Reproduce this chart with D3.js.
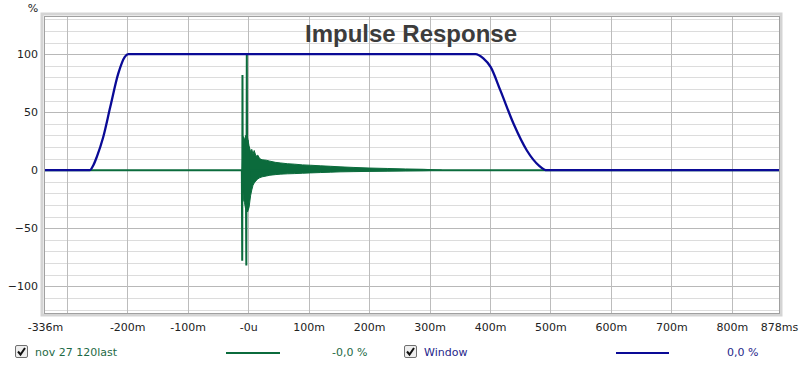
<!DOCTYPE html>
<html>
<head>
<meta charset="utf-8">
<title>Impulse Response</title>
<style>
body { margin: 0; background: #fff; }
svg text { font-family: "DejaVu Sans", sans-serif; font-size: 11px; fill: #222; }
.title { font-family: "Liberation Sans", Arial, sans-serif; font-weight: bold; font-size: 24px; fill: #3c3c3c; }
</style>
<script src="https://d3js.org/d3.v7.min.js"></script>
</head>
<body>
<svg id="chart" width="800" height="367"></svg>
<script>
// axis ticks
var xTickValues = [-336, -200, -100, 0, 100, 200, 300, 400, 500, 600, 700, 800, 878];
var xTickLabels = ["-336m", "-200m", "-100m", "-0u", "100m", "200m", "300m", "400m", "500m", "600m", "700m", "800m", "878ms"];
var xGrid = [-300, -200, -100, 0, 100, 200, 300, 400, 500, 600, 700, 800];
var yTickValues = [-100, -50, 0, 50, 100];

// window curve (ms, %)
var winTime  = [-336, -262, -256, -250, -240, -228, -215, -204, -198, 376, 389, 401, 417, 439, 461, 481, 494, 878];
var winValue = [0, 0, 4.3, 12, 28, 54.6, 83, 97.7, 100, 100, 96.3, 89, 69, 40, 17, 4, 0, 0];

// impulse: main spikes (ms, %)
var irTime  = [-336, -10.4, -9.8, -9.4, -8.9, -8.2, -7.4, -6.6, -5.6, -4.6, -3.6, -3.0, -2.2, -1.6, -0.9, -0.2, 0.6, 1.6, 2.6, 878];
var irValue = [0, 0, -78, 82, -10, 14, -12, 18, -9, 12, -20, -82, 101, -22, 26, -33, 20, -24, 0, 0];

// impulse: decaying noise envelope (ms, upper %, lower %)
var noiseTime = [-10, -8, -6, -4, -1, 1.5, 4, 6, 8, 10, 13, 16, 19, 23, 30, 36, 45, 53, 65, 77, 90, 103, 120, 136, 152, 175, 200, 230, 260, 290, 320];
var noiseHi   = [0, 29, 26, 30, 28, 21, 16, 18, 14, 17, 12, 13, 10, 9, 8.6, 7.8, 6.8, 6.3, 5.6, 5.2, 4.6, 4.3, 3.8, 3.4, 2.9, 2.4, 1.9, 1.5, 1.1, 0.8, 0];
var noiseLo   = [0, -25, -28, -34, -36, -32, -22, -17, -13, -11, -9, -7.5, -6.5, -5.7, -5, -4.3, -3.8, -3.4, -3.1, -2.9, -2.6, -2.3, -2, -1.7, -1.4, -1.2, -1, -0.8, -0.6, -0.4, 0];

var margin = {left: 45, right: 21, top: 17, bottom: 54};
var W = 800, H = 367;
var x0 = margin.left, x1 = W - margin.right, y0 = margin.top, y1 = H - margin.bottom;

var x = d3.scaleLinear().domain([-336, 878]).range([x0, x1]);
var y = d3.scaleLinear().domain([-123, 132]).range([y1, y0]);

var svg = d3.select("#chart");
svg.append("rect").attr("width", W).attr("height", H).attr("fill", "#fff");

// frame shadow
svg.append("rect")
	.attr("x", x0 - 3).attr("y", y0 - 3)
	.attr("width", x1 - x0 + 5).attr("height", y1 - y0 + 5)
	.attr("fill", "none").attr("stroke", "#d4d4d4").attr("stroke-width", 3);

// grid
var grid = svg.append("g");
grid.selectAll(".hg")
	.data(d3.range(-120, 131, 10))
	.enter().append("line")
	.attr("x1", x0).attr("x2", x1)
	.attr("y1", function(d) { return Math.round(y(d)) + 0.5; })
	.attr("y2", function(d) { return Math.round(y(d)) + 0.5; })
	.attr("stroke", function(d) { return d % 50 == 0 ? "#b8b8b8" : "#dcdcdc"; });
grid.selectAll(".vg")
	.data(xGrid)
	.enter().append("line")
	.attr("y1", y0).attr("y2", y1)
	.attr("x1", function(d) { return Math.round(x(d)) + 0.5; })
	.attr("x2", function(d) { return Math.round(x(d)) + 0.5; })
	.attr("stroke", "#bcbcbc");

svg.append("text").attr("class", "title")
	.attr("x", 411).attr("y", 42)
	.attr("text-anchor", "middle")
	.text("Impulse Response");

// data
svg.append("clipPath").attr("id", "clip")
	.append("rect").attr("x", x0).attr("y", y0).attr("width", x1 - x0).attr("height", y1 - y0);
var plot = svg.append("g").attr("clip-path", "url(#clip)");

var green = "#0b6b3c", blue = "#0a0a96";

var noiseArea = d3.area()
	.x(function(d, i) { return x(noiseTime[i]); })
	.y0(function(d, i) { return y(noiseLo[i]); })
	.y1(function(d, i) { return y(noiseHi[i]); });
plot.append("path").datum(noiseTime)
	.attr("d", noiseArea)
	.attr("fill", green).attr("stroke", green).attr("stroke-width", 1);

var irLine = d3.line()
	.x(function(d, i) { return x(irTime[i]); })
	.y(function(d, i) { return y(irValue[i]); });
plot.append("path").datum(irTime)
	.attr("d", irLine)
	.attr("fill", "none").attr("stroke", green).attr("stroke-width", 2);

var winLine = d3.line()
	.x(function(d, i) { return x(winTime[i]); })
	.y(function(d, i) { return y(winValue[i]); })
	.curve(d3.curveMonotoneX);
plot.append("path").datum(winTime)
	.attr("d", winLine)
	.attr("fill", "none").attr("stroke", blue).attr("stroke-width", 2.3);

// inner frame
svg.append("rect")
	.attr("x", x0 - 0.5).attr("y", y0 - 0.5)
	.attr("width", x1 - x0 + 1).attr("height", y1 - y0 + 1)
	.attr("fill", "none").attr("stroke", "#a0a0a0").attr("stroke-width", 1);

// axes
var xAxis = d3.axisBottom(x).tickValues(xTickValues)
	.tickFormat(function(d, i) { return xTickLabels[i]; })
	.tickSize(0).tickPadding(10);
svg.append("g").attr("transform", "translate(0," + y1 + ")").call(xAxis)
	.call(function(g) { g.select(".domain").remove(); })
	.selectAll("text").attr("font-family", "DejaVu Sans").attr("font-size", 11).attr("fill", "#222");

var yAxis = d3.axisLeft(y).tickValues(yTickValues).tickSize(0).tickPadding(7);
svg.append("g").attr("transform", "translate(" + x0 + ",0)").call(yAxis)
	.call(function(g) { g.select(".domain").remove(); })
	.selectAll("text").attr("font-family", "DejaVu Sans").attr("font-size", 11).attr("fill", "#222");

svg.append("text").attr("x", 33).attr("y", 12).attr("text-anchor", "middle").text("%");

// legend
function checkbox(cx, cy) {
	var g = svg.append("g").attr("transform", "translate(" + cx + "," + cy + ")");
	g.append("rect").attr("x", 0.5).attr("y", 0.5).attr("width", 12).attr("height", 12)
		.attr("rx", 1.5).attr("fill", "#eeeeee").attr("stroke", "#707070");
	g.append("path").attr("d", "M3,6.5 L5.5,9.5 L10,3")
		.attr("fill", "none").attr("stroke", "#111").attr("stroke-width", 2);
}
checkbox(15, 345);
svg.append("text").attr("x", 35).attr("y", 356).style("fill", "#1e6a46").text("nov 27 120last");
svg.append("line").attr("x1", 226).attr("x2", 280).attr("y1", 353).attr("y2", 353)
	.attr("stroke", green).attr("stroke-width", 2);
svg.append("text").attr("x", 332).attr("y", 356).style("fill", "#1e6a46").text("-0,0 %");

checkbox(404, 345);
svg.append("text").attr("x", 424).attr("y", 356).style("fill", "#26268a").text("Window");
svg.append("line").attr("x1", 616).attr("x2", 669).attr("y1", 353).attr("y2", 353)
	.attr("stroke", blue).attr("stroke-width", 2);
svg.append("text").attr("x", 727).attr("y", 356).style("fill", "#26268a").text("0,0 %");
</script>
</body>
</html>
